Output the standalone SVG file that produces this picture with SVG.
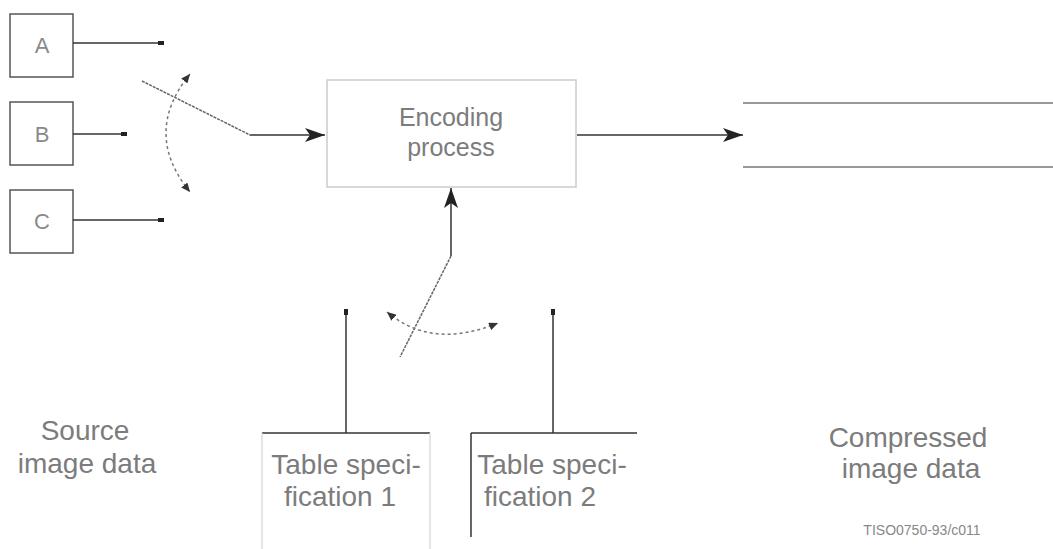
<svg xmlns="http://www.w3.org/2000/svg" width="1053" height="549" viewBox="0 0 1053 549">
<defs>
<style>
.t{font-family:"Liberation Sans",Arial,sans-serif;font-size:28px;fill:#7c7c7c;text-anchor:middle}
.e{font-size:25px}
.lab{font-family:"Liberation Sans",Arial,sans-serif;font-size:22px;fill:#8a8a8a;text-anchor:middle}
.small{font-family:"Liberation Sans",Arial,sans-serif;font-size:14px;fill:#888;text-anchor:middle}
.box{fill:none;stroke:#555;stroke-width:1.5}
.faint{fill:none;stroke:#dcdcdc;stroke-width:1.5}
.ln{fill:none;stroke:#333;stroke-width:1.5}
.sw{fill:none;stroke:#666;stroke-width:1.5;stroke-dasharray:3 1}
.dash{fill:none;stroke:#777;stroke-width:1.5;stroke-dasharray:3 3}
.dot{fill:#222}
</style>
<marker id="ah" markerWidth="22" markerHeight="14" refX="20" refY="7" orient="auto" markerUnits="userSpaceOnUse">
<path d="M0,0 L20,7 L0,14 L5,7 Z" fill="#222"/>
</marker>
<marker id="sa" markerWidth="10" markerHeight="8" refX="9" refY="4" orient="auto" markerUnits="userSpaceOnUse">
<path d="M0,0 L9,4 L0,8 Z" fill="#333"/>
</marker>
<marker id="sas" markerWidth="10" markerHeight="8" refX="1" refY="4" orient="auto" markerUnits="userSpaceOnUse">
<path d="M10,0 L1,4 L10,8 Z" fill="#333"/>
</marker>
</defs>
<rect width="1053" height="549" fill="#fff"/>

<g id="nodeA"><rect class="box" x="10" y="14" width="63" height="63"/><text class="lab" x="42" y="53">A</text></g>
<g id="nodeB"><rect class="box" x="10" y="102" width="63" height="63"/><text class="lab" x="42" y="142">B</text></g>
<g id="nodeC"><rect class="box" x="10" y="190" width="63" height="63"/><text class="lab" x="42" y="229">C</text></g>

<g id="encoding"><rect x="327" y="80" width="249" height="107" fill="none" stroke="#ccc" stroke-width="1.5"/>
<text class="t e" x="451" y="126">Encoding</text><text class="t e" x="451" y="156">process</text></g>

<g id="output"><line x1="743" y1="103" x2="1053" y2="103" stroke="#777" stroke-width="1.5"/><line x1="743" y1="167" x2="1053" y2="167" stroke="#777" stroke-width="1.5"/></g>

<g id="table1"><line class="ln" x1="262" y1="433" x2="430" y2="433"/><line class="faint" x1="262" y1="433" x2="262" y2="549"/><line class="faint" x1="430" y1="433" x2="430" y2="549"/>
<text class="t" x="346" y="474">Table speci-</text><text class="t" x="340" y="506">fication 1</text></g>

<g id="table2"><line class="ln" x1="471" y1="433" x2="637" y2="433"/><line class="ln" x1="471" y1="433" x2="471" y2="537"/>
<text class="t" x="552" y="474">Table speci-</text><text class="t" x="540" y="506">fication 2</text></g>

<g id="source"><text class="t" x="85" y="440">Source</text><text class="t" x="87" y="473">image data</text></g>
<g id="compressed"><text class="t" x="908" y="447">Compressed</text><text class="t" x="911" y="478">image data</text></g>
<text class="small" x="922" y="535">TISO0750-93/c011</text>

<g id="connectors">
<line class="ln" x1="73" y1="43" x2="162" y2="43"/><rect class="dot" x="158" y="41" width="6" height="4"/>
<line class="ln" x1="73" y1="134" x2="125" y2="134"/><rect class="dot" x="121" y="132" width="6" height="4"/>
<line class="ln" x1="73" y1="220" x2="162" y2="220"/><rect class="dot" x="158" y="218" width="6" height="4"/>
<line class="sw" x1="142" y1="81" x2="250" y2="135"/>
<line class="ln" x1="250" y1="135" x2="325" y2="135" marker-end="url(#ah)"/>
<path class="dash" d="M190,74 Q142,133 190,192" marker-start="url(#sas)" marker-end="url(#sa)"/>
<line class="ln" x1="577" y1="135" x2="743" y2="135" marker-end="url(#ah)"/>
<line class="ln" x1="451" y1="256" x2="451" y2="188" marker-end="url(#ah)"/>
<line class="sw" x1="451" y1="256" x2="400" y2="357"/>
<line class="ln" x1="346" y1="311" x2="346" y2="433"/><rect class="dot" x="344" y="309" width="4" height="6"/>
<line class="ln" x1="553" y1="311" x2="553" y2="433"/><rect class="dot" x="551" y="309" width="4" height="6"/>
<path class="dash" d="M387,312 Q432,350 498,323" marker-start="url(#sas)" marker-end="url(#sa)"/>
</g>
</svg>
